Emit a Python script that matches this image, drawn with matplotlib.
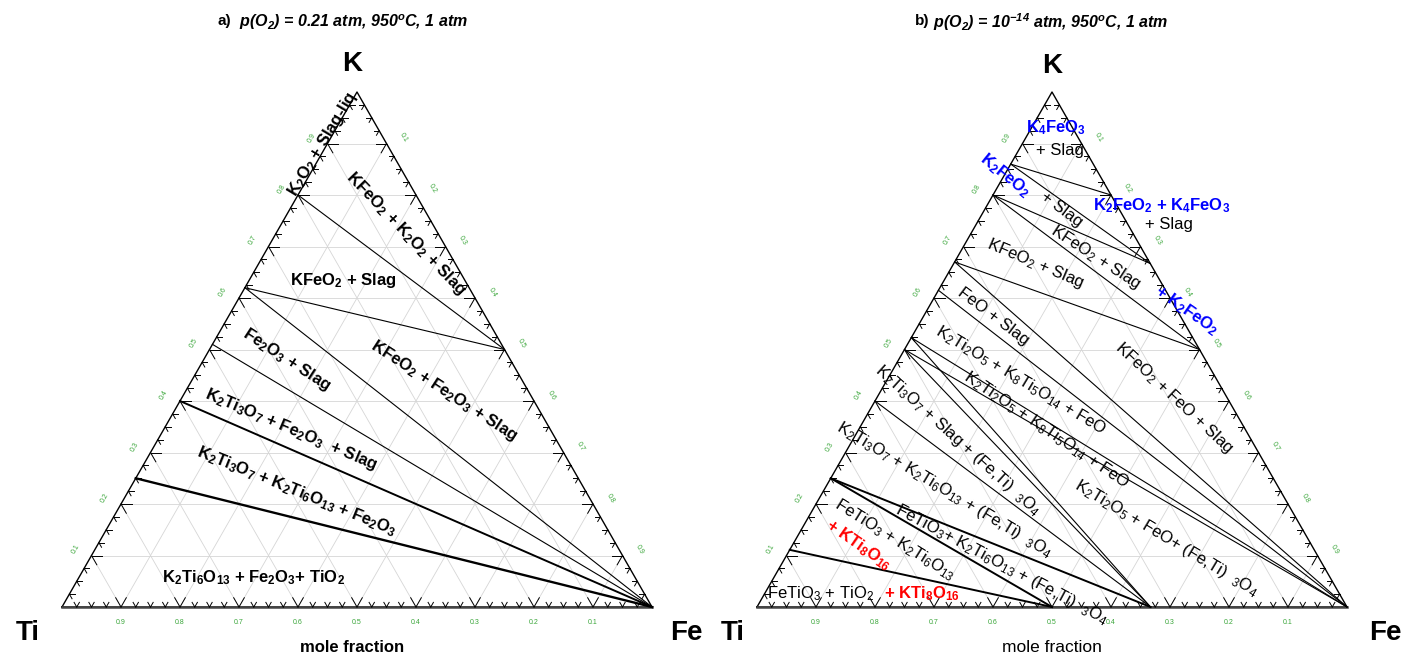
import numpy as np
import matplotlib.pyplot as plt

plt.rcParams['font.family'] = ['Liberation Sans', 'DejaVu Sans']
plt.rcParams['mathtext.default'] = 'regular'

W, H = 1416, 657
S3 = np.sqrt(3) / 2

# compositions are (x_K, x_Fe); x_Ti = 1 - x_K - x_Fe
# a) p(O2) = 0.21 atm
a_start = [(0.80, 0.0), (0.62, 0.0), (0.62, 0.0), (0.51, 0.0), (0.40, 0.0), (0.25, 0.0)]
a_end = [(0.50, 0.50), (0.50, 0.50), (0.0, 1.0), (0.0, 1.0), (0.0, 1.0), (0.0, 1.0)]
a_width = [0.8, 0.8, 0.8, 0.8, 1.4, 1.7]

# b) p(O2) = 1e-14 atm
b_start = [(0.86, 0.0), (0.86, 0.0), (0.80, 0.0), (0.80, 0.0), (0.67, 0.0), (0.67, 0.0),
           (0.615, 0.0), (0.523, 0.0), (0.50, 0.0), (0.523, 0.0), (0.50, 0.0), (0.40, 0.0),
           (0.25, 0.0), (0.25, 0.0), (0.111, 0.0)]
b_end = [(0.80, 0.20), (0.667, 0.333), (0.667, 0.333), (0.50, 0.50), (0.50, 0.50), (0.0, 1.0),
         (0.0, 1.0), (0.0, 1.0), (0.0, 1.0), (0.0, 0.667), (0.0, 0.667), (0.0, 0.667),
         (0.0, 0.667), (0.0, 0.50), (0.0, 0.50)]
b_width = [0.8, 0.8, 0.8, 0.8, 0.8, 0.8, 0.8, 0.8, 0.8, 0.8, 0.8, 0.8, 1.4, 1.4, 1.4]

tick_major = [0.1, 0.2, 0.3, 0.4, 0.5, 0.6, 0.7, 0.8, 0.9]
tick_minor = [i * 0.025 for i in range(1, 40) if i % 4 != 0]

# text labels: text, x px, y px, rotation, colour, weight
a_labels = [
    ("K$_2$O$_2$ + Slag-liq", 322, 144, 59, 'k', 'bold'),
    ("KFeO$_2$ + K$_2$O$_2$ + Slag", 406, 234, -46, 'k', 'bold'),
    ("KFeO$_2$ + Slag", 343, 281, 0, 'k', 'bold'),
    ("Fe$_2$O$_3$ + Slag", 287, 360, -33, 'k', 'bold'),
    ("KFeO$_2$ + Fe$_2$O$_3$ + Slag", 444, 391, -33, 'k', 'bold'),
    ("K$_2$Ti$_3$O$_7$ + Fe$_2$O$_3$  + Slag", 291, 430, -23, 'k', 'bold'),
    ("K$_2$Ti$_3$O$_7$ + K$_2$Ti$_6$O$_{13}$ + Fe$_2$O$_3$", 297, 491, -22, 'k', 'bold'),
    ("K$_2$Ti$_6$O$_{13}$ + Fe$_2$O$_3$+ TiO$_2$", 254, 578, 0, 'k', 'bold'),
]
b_labels = [
    ("K$_4$FeO$_3$", 1056, 128, 0, 'blue', 'bold'),
    ("+ Slag", 1060, 150, 0, 'k', 'normal'),
    ("K$_2$FeO$_2$", 1005, 175, -39, 'blue', 'bold'),
    ("+ Slag", 1062, 209, -37, 'k', 'normal'),
    ("K$_2$FeO$_2$ + K$_4$FeO$_3$", 1162, 206, 0, 'blue', 'bold'),
    ("+ Slag", 1169, 225, 0, 'k', 'normal'),
    ("KFeO$_2$ + Slag", 1096, 257, -33, 'k', 'normal'),
    ("KFeO$_2$ + Slag", 1035, 264, -23, 'k', 'normal'),
    ("+ K$_2$FeO$_2$", 1187, 311, -35, 'blue', 'bold'),
    ("FeO + Slag", 993, 317, -37, 'k', 'normal'),
    ("KFeO$_2$ + FeO + Slag", 1174, 398, -43, 'k', 'normal'),
    ("K$_2$Ti$_2$O$_5$ + K$_8$Ti$_5$O$_{14}$ + FeO", 1021, 380, -31, 'k', 'normal'),
    ("K$_2$Ti$_2$O$_5$ + K$_8$Ti$_5$O$_{14}$ + FeO", 1046, 430, -34, 'k', 'normal'),
    ("K$_2$Ti$_3$O$_7$ + Slag + (Fe,Ti)  $_3$O$_4$", 958, 440, -42, 'k', 'normal'),
    ("K$_2$Ti$_3$O$_7$ + K$_2$Ti$_6$O$_{13}$ + (Fe,Ti)  $_3$O$_4$", 945, 490, -31, 'k', 'normal'),
    ("FeTiO$_3$ + K$_2$Ti$_6$O$_{13}$", 895, 540, -32, 'k', 'normal'),
    ("+ KTi$_8$O$_{16}$", 858, 545, -35, 'red', 'bold'),
    ("FeTiO$_3$+ K$_2$Ti$_6$O$_{13}$ + (Fe,Ti)  $_3$O$_4$", 1002, 565, -28, 'k', 'normal'),
    ("FeTiO$_3$ + TiO$_2$", 821, 594, 0, 'k', 'normal'),
    ("+ KTi$_8$O$_{16}$", 922, 594, 0, 'red', 'bold'),
    ("K$_2$Ti$_2$O$_5$ + FeO+ (Fe,Ti)  $_3$O$_4$", 1166, 538, -31, 'k', 'normal'),
]

GREEN = '#3aa63a'


def tern(k, f):
    k = np.asarray(k, dtype=float)
    f = np.asarray(f, dtype=float)
    return f + 0.5 * k, S3 * k


def ftext(x, y, s, **kw):
    # place text by pixel position in the figure
    fig.text(x / W, 1 - y / H, s, ha='center', va='center', rotation_mode='anchor', **kw)


def make_panel(left_px, ti_px, starts, ends, widths):
    ax = fig.add_axes([left_px / W, 0, 708 / W, 1])
    sx = 590.0
    sy = 515.0 / S3
    ax.set_xlim(-(ti_px - left_px) / sx, (left_px + 708 - ti_px) / sx)
    ax.set_ylim(-(H - 607) / sy, 607 / sy)
    ax.axis('off')

    # grid
    for v in tick_major:
        for p0, p1 in [((v, 0), (v, 1 - v)), ((0, v), (1 - v, v)), ((1 - v, 0), (0, 1 - v))]:
            x, y = tern([p0[0], p1[0]], [p0[1], p1[1]])
            ax.plot(x, y, color='#d6d6d6', lw=0.6, zorder=1)

    # triangle
    x, y = tern([0, 0, 1, 0], [0, 1, 0, 0])
    ax.plot(x, y, color='k', lw=1.0, zorder=3)
    x, y = tern([0, 0], [0, 1])
    ax.plot(x, y, color='#444444', lw=1.8, zorder=3)

    # ticks: two short arms along the other grid directions
    dirs = {
        'bottom': [(np.cos(np.pi / 3), np.sin(np.pi / 3)), (np.cos(2 * np.pi / 3), np.sin(2 * np.pi / 3))],
        'left': [(1.0, 0.0), (np.cos(-np.pi / 3), np.sin(-np.pi / 3))],
        'right': [(-1.0, 0.0), (np.cos(4 * np.pi / 3), np.sin(4 * np.pi / 3))],
    }
    for vals, ln in [(tick_major, 0.018), (tick_minor, 0.009)]:
        for v in vals:
            pts = {'bottom': tern(0, v), 'left': tern(v, 0), 'right': tern(1 - v, v)}
            for side, (px, py) in pts.items():
                for dx, dy in dirs[side]:
                    ax.plot([px, px + ln * dx], [py, py + ln * dy], color='k', lw=0.7, zorder=3)

    # tick labels
    for v in tick_major:
        lab = f"{v:.1f}"
        ax.annotate(lab, tern(v, 0), xytext=(-16, 6), textcoords='offset pixels',
                    ha='center', va='center', rotation=60, fontsize=5, color=GREEN)
        ax.annotate(lab, tern(1 - v, v), xytext=(17, 6), textcoords='offset pixels',
                    ha='center', va='center', rotation=-60, fontsize=5, color=GREEN)
        ax.annotate(lab, tern(0, 1 - v), xytext=(0, -15), textcoords='offset pixels',
                    ha='center', va='center', fontsize=5, color=GREEN)

    # phase boundaries
    for (k0, f0), (k1, f1), lw in zip(starts, ends, widths):
        x, y = tern([k0, k1], [f0, f1])
        ax.plot(x, y, color='k', lw=lw, zorder=4)
    return ax


fig = plt.figure(figsize=(W / 100, H / 100), dpi=100)
make_panel(0, 62, a_start, a_end, a_width)
make_panel(708, 757, b_start, b_end, b_width)

for s, x, y, r, c, w in a_labels + b_labels:
    ftext(x, y, s, rotation=r, color=c, fontweight=w, fontsize=12, zorder=5)

# titles
ftext(224, 21, "a)", fontsize=11, fontweight='bold')
ftext(353, 22, "p(O$_2$) = 0.21 atm, 950$^o$C, 1 atm", fontsize=11.5, fontweight='bold',
      fontstyle='italic')
ftext(922, 21, "b)", fontsize=11, fontweight='bold')
ftext(1051, 22, "p(O$_2$) = 10$^{-14}$ atm, 950$^o$C, 1 atm", fontsize=11.5, fontweight='bold',
      fontstyle='italic')

# corner names
for s, x, y in [("K", 352, 64), ("Ti", 28, 633), ("Fe", 686, 633),
                ("K", 1052, 66), ("Ti", 733, 633), ("Fe", 1385, 633)]:
    ftext(x, y, s, fontsize=20, fontweight='bold')

ftext(352, 647, "mole fraction", fontsize=12, fontweight='bold')
ftext(1052, 648, "mole fraction", fontsize=12.5)

fig.savefig('out.png', dpi=100)
